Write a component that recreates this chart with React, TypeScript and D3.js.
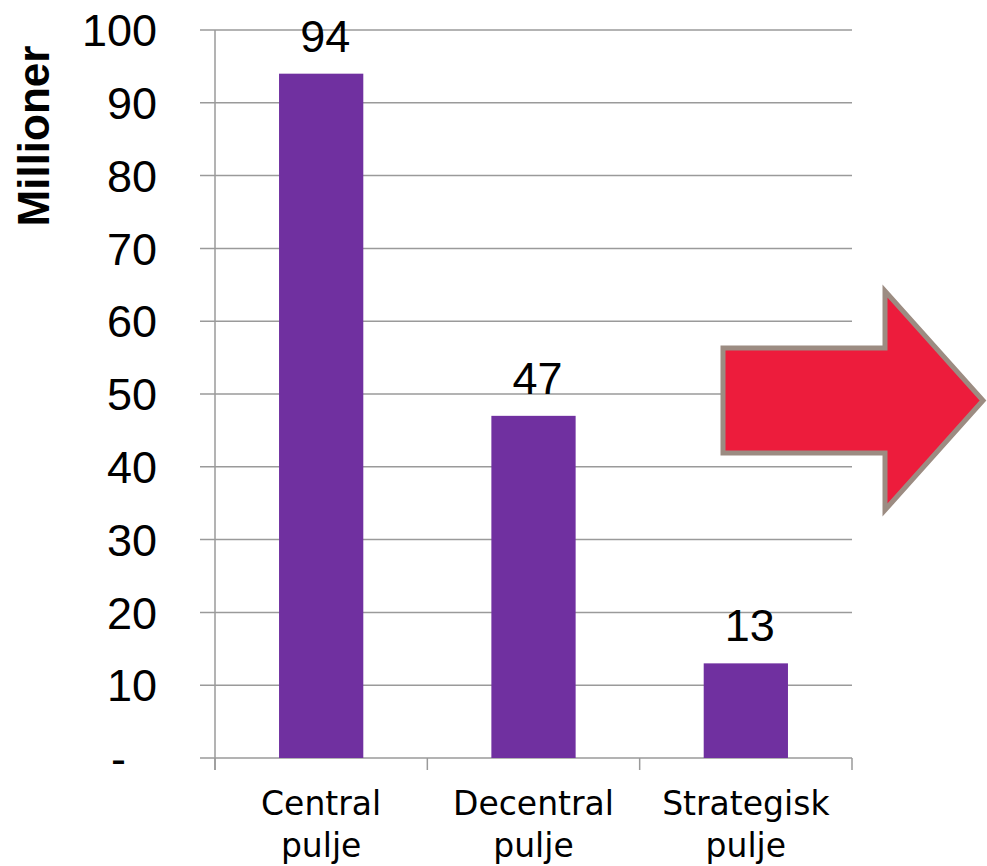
import React from "react";
import * as d3 from "d3";

const categories: string[][] = [
  ["Central", "pulje"],
  ["Decentral", "pulje"],
  ["Strategisk", "pulje"],
];
const values: number[] = [94, 47, 13];
const yTicks: number[] = [0, 10, 20, 30, 40, 50, 60, 70, 80, 90, 100];
const yTitle = "Millioner";

const W = 987;
const H = 866;
const plotLeft = 215;
const plotRight = 852;
const plotTop = 30;
const plotBottom = 758;

const gridColor = "#9a9a9a";
const barColor = "#7030A0";
const numFont = "'Liberation Sans', Arial, sans-serif";
const catFont = "'DejaVu Sans', Verdana, sans-serif";

export default function App() {
  const x = d3
    .scaleBand<number>()
    .domain(categories.map((_, i) => i))
    .range([plotLeft, plotRight])
    .padding(0);
  const y = d3.scaleLinear().domain([0, 100]).range([plotBottom, plotTop]);
  const barW = x.bandwidth() / 2.52;

  const fmt = (v: number) => (v === 0 ? "-" : d3.format(",")(v));

  return (
    <svg
      width={W}
      height={H}
      style={{ position: "absolute", left: 0, top: 0, background: "#fff" }}
    >
      {yTicks.map((t) => (
        <line
          key={"g" + t}
          x1={plotLeft - 15}
          x2={plotRight}
          y1={y(t)}
          y2={y(t)}
          stroke={gridColor}
          strokeWidth={1.5}
        />
      ))}
      <line
        x1={plotLeft}
        x2={plotLeft}
        y1={y(100)}
        y2={plotBottom + 12}
        stroke={gridColor}
        strokeWidth={1.5}
      />
      {[...categories.map((_, i) => x(i) as number), plotRight].map((px, i) => (
        <line
          key={"ct" + i}
          x1={px}
          x2={px}
          y1={plotBottom}
          y2={plotBottom + 12}
          stroke={gridColor}
          strokeWidth={1.5}
        />
      ))}
      {yTicks.map((t) => (
        <text
          key={"yl" + t}
          x={t === 0 ? 126 : 157}
          y={y(t)}
          dy="0.36em"
          textAnchor="end"
          fontFamily={numFont}
          fontSize={45}
          fill="#000"
        >
          {fmt(t)}
        </text>
      ))}
      <text
        transform={`translate(49,${(y(100) + y(0)) / 2 - 258}) rotate(-90)`}
        textAnchor="middle"
        fontFamily={numFont}
        fontWeight="bold"
        fontSize={44}
        fill="#000"
      >
        {yTitle}
      </text>
      {values.map((v, i) => {
        const cx = (x(i) as number) + x.bandwidth() / 2;
        return (
          <g key={"b" + i}>
            <rect
              x={cx - barW / 2}
              y={y(v)}
              width={barW}
              height={plotBottom - y(v)}
              fill={barColor}
            />
            <text
              x={cx + 4}
              y={y(v) - 22}
              textAnchor="middle"
              fontFamily={numFont}
              fontSize={45}
              fill="#000"
            >
              {v}
            </text>
          </g>
        );
      })}
      {categories.map((lines, i) => {
        const cx = (x(i) as number) + x.bandwidth() / 2;
        return (
          <text
            key={"c" + i}
            textAnchor="middle"
            fontFamily={catFont}
            fontSize={33}
            fill="#000"
          >
            {lines.map((l, j) => (
              <tspan key={j} x={cx} y={815 + j * 42}>
                {l}
              </tspan>
            ))}
          </text>
        );
      })}
      <path
        d="M723,348 H885 V291 L983,400.5 L885,510 V453 H723 Z"
        fill="#ED1C3C"
        stroke="#9C8C82"
        strokeWidth={5}
        strokeLinejoin="miter"
      />
    </svg>
  );
}
